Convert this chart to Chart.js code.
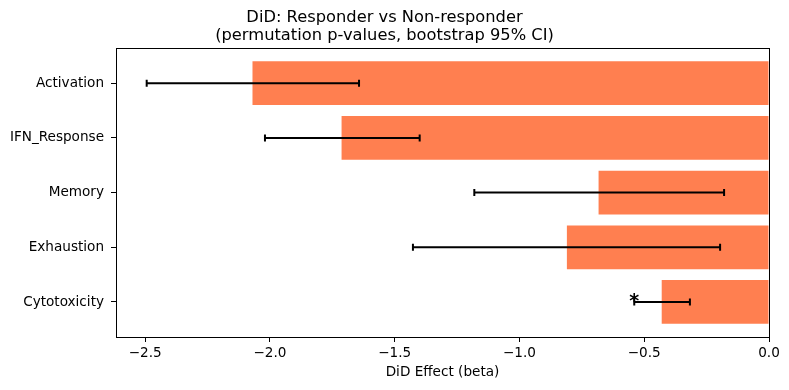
<!DOCTYPE html>
<html>
<head>
<meta charset="utf-8">
<script src="https://cdn.jsdelivr.net/npm/chart.js@4.4.1/dist/chart.umd.min.js"></script>
<style>
  body { margin: 0; background: #fff; }
  #wrap { width: 789px; height: 390px; }
</style>
</head>
<body>
<div id="wrap"><canvas id="didChart" width="789" height="390"></canvas></div>
<script>
const categories = ['Activation', 'IFN_Response', 'Memory', 'Exhaustion', 'Cytotoxicity'];
const effects = [-2.07, -1.713, -0.683, -0.81, -0.43];
const ciLow = [-2.494, -2.02, -1.181, -1.427, -0.54];
const ciHigh = [-1.643, -1.40, -0.18, -0.196, -0.317];
const sigMarks = ['', '', '', '', '*'];
const xTicks = [-2.5, -2.0, -1.5, -1.0, -0.5, 0.0];

const FONT = 'DejaVu Sans';

// error bars, significance stars and the top/right spines
const extras = {
  id: 'extras',
  afterDatasetsDraw(chart) {
    const { ctx, chartArea, scales: { x, y } } = chart;
    ctx.save();
    ctx.strokeStyle = '#000';
    ctx.lineWidth = 2;
    categories.forEach((c, i) => {
      const py = y.getPixelForValue(i);
      const x1 = x.getPixelForValue(ciLow[i]);
      const x2 = x.getPixelForValue(ciHigh[i]);
      ctx.beginPath();
      ctx.moveTo(x1, py); ctx.lineTo(x2, py);
      ctx.moveTo(x1, py - 3.5); ctx.lineTo(x1, py + 3.5);
      ctx.moveTo(x2, py - 3.5); ctx.lineTo(x2, py + 3.5);
      ctx.stroke();
      if (sigMarks[i]) {
        ctx.fillStyle = '#000';
        ctx.font = 'bold 19px "' + FONT + '"';
        ctx.textAlign = 'center';
        ctx.textBaseline = 'alphabetic';
        ctx.fillText(sigMarks[i], x1, py + 5);
      }
    });
    ctx.lineWidth = 1;
    ctx.strokeRect(Math.round(chartArea.left) + 0.5, Math.round(chartArea.top) + 0.5,
      Math.round(chartArea.right - chartArea.left), Math.round(chartArea.bottom - chartArea.top));
    ctx.restore();
  }
};

new Chart(document.getElementById('didChart'), {
  type: 'bar',
  data: {
    datasets: [{
      data: effects.map((v, i) => ({ x: v, y: i })),
      backgroundColor: '#FF7F50',
      borderWidth: 0,
      barPercentage: 1,
      categoryPercentage: 0.8
    }]
  },
  options: {
    indexAxis: 'y',
    responsive: false,
    animation: false,
    layout: { padding: { left: 0, right: 20, top: 0, bottom: 0 } },
    plugins: {
      legend: { display: false },
      tooltip: { enabled: false },
      title: {
        display: true,
        text: ['DiD: Responder vs Non-responder', '(permutation p-values, bootstrap 95% CI)'],
        color: '#000',
        font: { family: FONT, size: 16.3, weight: 'normal', lineHeight: 1.08 },
        padding: { top: 9, bottom: 4 }
      }
    },
    scales: {
      x: {
        type: 'linear',
        min: -2.617,
        max: 0,
        afterBuildTicks: s => { s.ticks = xTicks.map(v => ({ value: v })); },
        afterFit: s => { s.height = 53; },
        ticks: {
          color: '#000',
          font: { family: FONT, size: 13.6 },
          padding: 3,
          callback: v => (v < 0 ? '\u2212' : '') + Math.abs(v).toFixed(1)
        },
        grid: { drawOnChartArea: false, color: '#000', tickLength: 5 },
        border: { color: '#000' },
        title: {
          display: true,
          text: 'DiD Effect (beta)',
          color: '#000',
          font: { family: FONT, size: 13.6 },
          padding: { top: 0, bottom: 9 }
        }
      },
      y: {
        type: 'linear',
        reverse: true,
        offset: false,
        min: -0.64,
        max: 4.64,
        afterBuildTicks: s => { s.ticks = categories.map((c, i) => ({ value: i })); },
        afterFit: s => { s.width = 116; },
        ticks: {
          color: '#000',
          font: { family: FONT, size: 13.6 },
          padding: 7,
          callback: v => categories[v]
        },
        grid: { drawOnChartArea: false, offset: false, color: '#000', tickLength: 5 },
        border: { color: '#000' }
      }
    }
  },
  plugins: [extras]
});
</script>
</body>
</html>
